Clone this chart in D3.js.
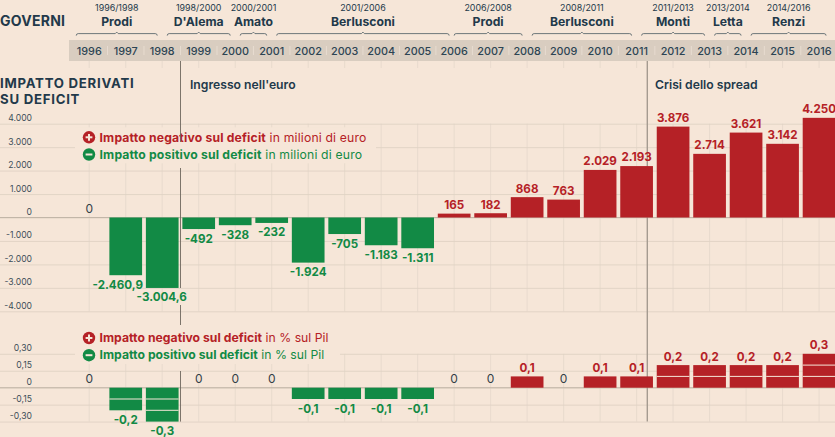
<!DOCTYPE html>
<html>
<head>
<meta charset="utf-8">
<script src="https://cdn.jsdelivr.net/npm/d3@7"></script>
<style>
  html, body { margin: 0; padding: 0; background: #f6e6d8; overflow: hidden; }
  svg { display: block; font-family: Inter, "Noto Sans", sans-serif; }
</style>
</head>
<body>
<svg id="chart" width="835" height="437"></svg>
<script>
// years on the x axis
var years = [1996, 1997, 1998, 1999, 2000, 2001, 2002, 2003, 2004, 2005, 2006,
             2007, 2008, 2009, 2010, 2011, 2012, 2013, 2014, 2015, 2016];

// impact in millions of euro, one per year
var milionValues = [0, -2460.9, -3004.6, -492, -328, -232, -1924, -705, -1183, -1311, 165,
                    182, 868, 763, 2029, 2193, 3876, 2714, 3621, 3142, 4250];

// impact in % of gdp, one per year
var pilValues = [0, -0.2, -0.3, 0, 0, 0, -0.1, -0.1, -0.1, -0.1, 0,
                 0, 0.1, 0, 0.1, 0.1, 0.2, 0.2, 0.2, 0.2, 0.3];

// governments
var govNames = ["Prodi", "D'Alema", "Amato", "Berlusconi", "Prodi", "Berlusconi", "Monti", "Letta", "Renzi"];
var govPeriods = ["1996/1998", "1998/2000", "2000/2001", "2001/2006", "2006/2008", "2008/2011", "2011/2013", "2013/2014", "2014/2016"];

// axis ticks
var milionTicks = [4000, 3000, 2000, 1000, 0, -1000, -2000, -3000, -4000];
var pilTicks = [0.30, 0.15, 0, -0.15, -0.30];

var RED = "#b52126", GREEN = "#128a45", NAVY = "#22394a", GRID = "#e3d6c8", BG = "#f6e6d8";

var svg = d3.select("#chart");

// italian number format
var it = d3.formatLocale({decimal: ",", thousands: ".", grouping: [3], currency: ["", "€"], minus: "-"});
var fmtValue = function(v) { return Number.isInteger(v) ? it.format(",d")(v) : it.format(",.1f")(v); };
var fmtPil = function(v) { return v === 0 ? "0" : it.format(".2f")(v); };

// scales
var x = d3.scaleBand().domain(years).range([71, 837.3]).paddingInner(0.104).paddingOuter(0.052);
var yTop = d3.scaleLinear().domain([-4000, 4000]).range([311.3, 123.7]);
var yBottom = d3.scaleLinear().domain([-0.30, 0.30]).range([421.6, 353.8]);
var cx = function(year) { return x(year) + x.bandwidth() / 2; };

// header: governments with their braces
svg.append("text").attr("x", 0).attr("y", 25.5).attr("fill", NAVY)
  .attr("font-size", 14).attr("letter-spacing", 0.25).attr("font-weight", 700).text("GOVERNI");

function govStart(i) {
  var first = +govPeriods[i].split("/")[0];
  if (i === 0) return cx(first) - 13;
  return cx(first) + (first === 2006 ? 0 : 5);
}
function govEnd(i) {
  var last = +govPeriods[i].split("/")[1];
  return cx(last) + (last === 2016 ? 7 : -5);
}

govNames.forEach(function(name, i) {
  var x0 = govStart(i), x1 = govEnd(i), mid = (x0 + x1) / 2;
  svg.append("text").attr("x", mid).attr("y", 11).attr("text-anchor", "middle")
    .attr("fill", NAVY).attr("font-size", 8.9).text(govPeriods[i]);
  svg.append("text").attr("x", mid).attr("y", 25.5).attr("text-anchor", "middle")
    .attr("fill", NAVY).attr("font-size", 12.2).attr("font-weight", 700).text(name);
  var b = 33.6;
  svg.append("path").attr("fill", "none").attr("stroke", "#4a5a62").attr("stroke-width", 0.8)
    .attr("d", "M" + x0 + "," + (b + 2) + "Q" + x0 + "," + b + " " + (x0 + 2) + "," + b +
      "L" + (mid - 1.5) + "," + b + "L" + mid + "," + (b - 1.5) + "L" + (mid + 1.5) + "," + b +
      "L" + (x1 - 2) + "," + b + "Q" + x1 + "," + b + " " + x1 + "," + (b + 2));
});

// year band
svg.append("rect").attr("x", 69).attr("y", 40).attr("width", 766).attr("height", 21).attr("fill", "#d9cdc0");
svg.selectAll(".year").data(years).enter().append("text")
  .attr("x", cx).attr("y", 54.7).attr("text-anchor", "middle")
  .attr("fill", "#2c4453").attr("font-size", 10.8).attr("font-weight", 500).text(function(d) { return d; });
svg.selectAll(".yearSep").data(years.slice(1)).enter().append("line")
  .attr("x1", function(d) { return x(d) - x.step() * 0.052; })
  .attr("x2", function(d) { return x(d) - x.step() * 0.052; })
  .attr("y1", 46).attr("y2", 55).attr("stroke", "#ebe0d4").attr("stroke-width", 0.8);

// section titles
svg.append("text").attr("x", 0).attr("y", 88).attr("fill", NAVY).attr("font-size", 13.2).attr("letter-spacing", 0.75).attr("font-weight", 700).text("IMPATTO DERIVATI");
svg.append("text").attr("x", 0).attr("y", 104.2).attr("fill", NAVY).attr("font-size", 13.2).attr("letter-spacing", 0.75).attr("font-weight", 700).text("SU DEFICIT");
svg.append("text").attr("x", 190).attr("y", 88.5).attr("fill", NAVY).attr("font-size", 12.2).attr("font-weight", 600).text("Ingresso nell'euro");
svg.append("text").attr("x", 655).attr("y", 88.5).attr("fill", NAVY).attr("font-size", 12.2).attr("font-weight", 600).text("Crisi dello spread");

// vertical grid
function vGrid(y0, y1) {
  svg.append("g").selectAll("line").data(years).enter().append("line")
    .attr("x1", cx).attr("x2", cx).attr("y1", y0).attr("y2", y1)
    .attr("stroke", GRID).attr("stroke-width", 0.7);
}
vGrid(61, 68);
vGrid(yTop(4000), yTop(-4000));
vGrid(yBottom(0.30), yBottom(-0.30));

// horizontal grid and tick labels
function yAxis(scale, ticks, fmt) {
  var g = svg.append("g")
    .call(d3.axisLeft(scale).tickValues(ticks).tickFormat(fmt).tickSizeInner(-835).tickSizeOuter(0).tickPadding(-32));
  g.select(".domain").remove();
  g.selectAll("line").attr("stroke", "#e0d3c4").attr("stroke-width", 0.9);
  g.selectAll("text").attr("fill", "#3c4d58").attr("font-size", 8.6).attr("dy", "-0.35em")
    .attr("font-family", "Inter, sans-serif");
  return g;
}
yAxis(yTop, milionTicks, it.format(","));
yAxis(yBottom, pilTicks, fmtPil);

// zero lines are a bit stronger
[yTop(0), yBottom(0)].forEach(function(y0) {
  svg.append("line").attr("x1", 0).attr("x2", 835).attr("y1", y0).attr("y2", y0)
    .attr("stroke", "#bdb1a4").attr("stroke-width", 0.9);
});

// legends
function legend(top, width, suffix, spacing) {
  svg.append("rect").attr("x", 75).attr("y", top - 10).attr("width", width).attr("height", 36).attr("fill", BG);
  [[RED, "Impatto negativo sul deficit", true], [GREEN, "Impatto positivo sul deficit", false]].forEach(function(row, i) {
    var yy = top + i * 17.2;
    svg.append("circle").attr("cx", 89).attr("cy", yy).attr("r", 6.2).attr("fill", row[0]);
    svg.append("line").attr("x1", 85.6).attr("x2", 92.4).attr("y1", yy).attr("y2", yy).attr("stroke", BG).attr("stroke-width", 2);
    if (row[2]) {
      svg.append("line").attr("x1", 89).attr("x2", 89).attr("y1", yy - 3.4).attr("y2", yy + 3.4).attr("stroke", BG).attr("stroke-width", 2);
    }
    var t = svg.append("text").attr("x", 99.5).attr("y", yy + 4.2).attr("fill", row[0]).attr("font-size", 12.2).attr("letter-spacing", spacing);
    t.append("tspan").attr("font-weight", 700).text(row[1]);
    t.append("tspan").text(" " + suffix);
  });
}
legend(137.3, 301, "in milioni di euro", 0.17);
legend(338, 265, "in % sul Pil", 0.03);

// event lines, the euro one stops around the -3.004,6 label
[[61, 142], [168, 288], [305, 325], [371, 421.6]].forEach(function(seg) {
  svg.append("line").attr("x1", 180.5).attr("x2", 180.5).attr("y1", seg[0]).attr("y2", seg[1])
    .attr("stroke", "#6e665e").attr("stroke-width", 0.9);
});
svg.append("line").attr("x1", 647.3).attr("x2", 647.3).attr("y1", 61).attr("y2", 421.6).attr("stroke", "#a59b90").attr("stroke-width", 1.4);

// bars, millions of euro
var barColor = function(v) { return v < 0 ? GREEN : RED; };
svg.append("g").selectAll("rect").data(milionValues.filter(function(v) { return v !== 0; })).enter().append("rect")
  .attr("x", function(d) { return x(years[milionValues.indexOf(d)]); })
  .attr("width", x.bandwidth())
  .attr("y", function(d) { return yTop(Math.max(d, 0)); })
  .attr("height", function(d) { return Math.abs(yTop(d) - yTop(0)); })
  .attr("fill", barColor);

// bars, % of gdp, cut every 0.1
years.forEach(function(year, i) {
  var v = pilValues[i];
  if (v === 0) return;
  svg.append("rect").attr("x", x(year)).attr("width", x.bandwidth())
    .attr("y", yBottom(Math.max(v, 0))).attr("height", Math.abs(yBottom(v) - yBottom(0)))
    .attr("fill", barColor(v));
  d3.range(1, Math.round(Math.abs(v) * 10)).forEach(function(k) {
    var yy = yBottom(Math.sign(v) * k / 10);
    svg.append("line").attr("x1", x(year)).attr("x2", x(year) + x.bandwidth())
      .attr("y1", yy).attr("y2", yy).attr("stroke", BG).attr("stroke-width", 1);
  });
});

// value labels
function valueLabels(values, scale, fmt) {
  svg.append("g").selectAll("text").data(values).enter().append("text")
    .attr("x", function(d, i) {
      if (d === -2460.9) return cx(years[i]) - 8;
      if (d === -3004.6) return cx(years[i]) - 0.5;
      return cx(years[i]);
    })
    .attr("y", function(d) { return d < 0 ? scale(d) + 13.5 : scale(d) - 4.6; })
    .attr("text-anchor", "middle")
    .attr("font-size", function(d) { return d === 0 ? 12 : 11.6; })
    .attr("font-weight", function(d) { return d === 0 ? 400 : 700; })
    .attr("fill", function(d) { return d === 0 ? "#333f47" : barColor(d); })
    .text(fmt);
}
valueLabels(milionValues, yTop, fmtValue);
valueLabels(pilValues, yBottom, function(v) { return v === 0 ? "0" : it.format(".1f")(v); });
</script>
</body>
</html>
